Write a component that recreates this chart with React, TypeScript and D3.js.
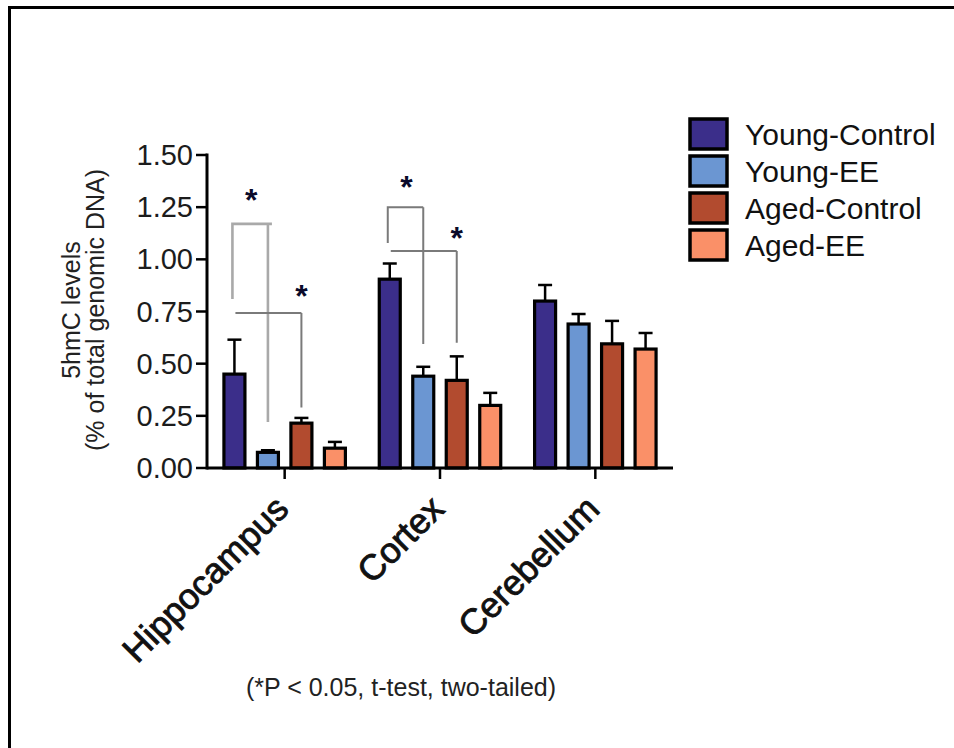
import React from "react";
import * as d3 from "d3";

const regions = ["Hippocampus", "Cortex", "Cerebellum"];
const groups = ["Young-Control", "Young-EE", "Aged-Control", "Aged-EE"];
const colors = ["#3b2e8a", "#6b96d2", "#b24b2f", "#fa9068"];
const means = [
  [0.45, 0.075, 0.215, 0.095],
  [0.905, 0.44, 0.42, 0.3],
  [0.8, 0.69, 0.595, 0.57],
];
const errors = [
  [0.165, 0.01, 0.025, 0.03],
  [0.075, 0.045, 0.115, 0.06],
  [0.077, 0.048, 0.11, 0.077],
];
const yTicks = [0, 0.25, 0.5, 0.75, 1.0, 1.25, 1.5];

const brackets = [
  { region: 0, a: 0, b: 1, top: 1.17, leftBottom: 0.81, rightBottom: 0.22, star: 1.31, light: true },
  { region: 0, a: 0, b: 2, top: 0.743, leftBottom: null, rightBottom: 0.29, star: 0.85, light: false },
  { region: 1, a: 0, b: 1, top: 1.25, leftBottom: 1.078, rightBottom: 0.594, star: 1.37, light: false },
  { region: 1, a: 0, b: 2, top: 1.04, leftBottom: null, rightBottom: 0.6, star: 1.125, light: false },
];

const FONT = "Liberation Sans, Arial, sans-serif";

export default function App() {
  const W = 954, H = 748;
  const y = d3.scaleLinear().domain([0, 1.5]).range([468, 155]);
  const x0 = d3.scaleBand().domain(regions).range([207, 673]).paddingInner(0).paddingOuter(0);
  const x1 = d3.scaleBand().domain(groups).range([-67, 67]).paddingInner(0.373).paddingOuter(0.187);
  const bw = x1.bandwidth();
  const cx = (r: number, g: number) => (x0(regions[r]) as number) + x0.bandwidth() / 2 + (x1(groups[g]) as number) + bw / 2;
  const axisX = 207, axisY = y(0);

  return (
    <svg width={W} height={H} style={{ position: "absolute", left: 0, top: 0, background: "#fff" }} fontFamily={FONT}>
      <rect x={0} y={0} width={W} height={H} fill="#fff" />
      <path d={`M9.5,${H} L9.5,7.5 L${W},7.5`} fill="none" stroke="#000" strokeWidth={3} />

      {brackets.map((b, i) => {
        const xa = cx(b.region, b.a) - 2;
        const xb = cx(b.region, b.b);
        const col = b.light ? "#a9a9a9" : "#7a7a7a";
        const sw = b.light ? 2.6 : 2;
        let d = "";
        if (b.leftBottom !== null) d += `M${xa},${y(b.leftBottom)} L${xa},${y(b.top)} `;
        else d += `M${xa + 3},${y(b.top)} `;
        d += `L${xb + (b.light ? 4 : 0)},${y(b.top)} M${xb},${y(b.top)} L${xb},${y(b.rightBottom)}`;
        const sx = b.a === 0 && b.b === 1 ? (cx(b.region, 0) + cx(b.region, 1)) / 2 : xb;
        return (
          <g key={i}>
            <path d={d} fill="none" stroke={col} strokeWidth={sw} />
            <text x={sx} y={y(b.star) + 16} textAnchor="middle" fontSize={32} fontWeight="bold" fill="#0a0a2a">*</text>
          </g>
        );
      })}

      {means.map((row, r) =>
        row.map((v, g) => {
          const c = cx(r, g);
          const top = y(v + errors[r][g]);
          return (
            <g key={`${r}-${g}`}>
              <line x1={c} x2={c} y1={y(v)} y2={top} stroke="#000" strokeWidth={2.5} />
              <line x1={c - 7} x2={c + 7} y1={top} y2={top} stroke="#000" strokeWidth={2.5} />
              <rect x={c - bw / 2} y={y(v)} width={bw} height={axisY - y(v)} fill={colors[g]} stroke="#000" strokeWidth={3.2} />
            </g>
          );
        })
      )}

      <line x1={axisX} x2={axisX} y1={y(1.5) - 1.5} y2={axisY + 1.5} stroke="#000" strokeWidth={3} />
      {yTicks.map((t) => (
        <g key={t}>
          <line x1={axisX - 11} x2={axisX} y1={y(t)} y2={y(t)} stroke="#000" strokeWidth={2.5} />
          <text x={axisX - 14} y={y(t) + 10} textAnchor="end" fontSize={29} fill="#1c1c1c">{d3.format(".2f")(t)}</text>
        </g>
      ))}

      <line x1={axisX} x2={673} y1={axisY} y2={axisY} stroke="#000" strokeWidth={3} />
      {regions.map((r) => {
        const c = (x0(r) as number) + x0.bandwidth() / 2;
        return (
          <g key={r}>
            <line x1={c} x2={c} y1={axisY} y2={axisY + 11} stroke="#000" strokeWidth={2.5} />
            <text transform={`translate(${c + 6},${511}) rotate(-45)`} textAnchor="end" fontSize={35.5} fill="#111" stroke="#111" strokeWidth={0.9}>{r}</text>
          </g>
        );
      })}

      <text transform={`translate(80,310) rotate(-90)`} textAnchor="middle" fontSize={25} fill="#222">5hmC levels</text>
      <text transform={`translate(104,310) rotate(-90)`} textAnchor="middle" fontSize={25} fill="#222">(% of total genomic DNA)</text>

      <text x={401} y={696} textAnchor="middle" fontSize={25} fill="#222">(*P &lt; 0.05, t-test, two-tailed)</text>

      {groups.map((g, i) => (
        <g key={g}>
          <rect x={690} y={119 + i * 37} width={37} height={30} fill={colors[i]} stroke="#000" strokeWidth={3.5} />
          <text x={745} y={145 + i * 37} fontSize={30} fill="#111">{g}</text>
        </g>
      ))}
    </svg>
  );
}
